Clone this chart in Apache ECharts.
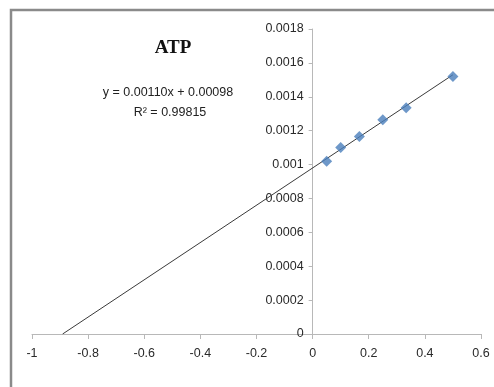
<!DOCTYPE html>
<html>
<head>
<meta charset="utf-8">
<script src="https://cdn.jsdelivr.net/npm/echarts@6/dist/echarts.min.js"></script>
<style>
  html, body { margin: 0; padding: 0; background: #ffffff; }
  #chart { width: 494px; height: 387px; }
</style>
</head>
<body>
<div id="chart"></div>
<script>
// Lineweaver-Burk style plot: 1/[S] against 1/v for ATP
const invSubstrate = [0.05, 0.1, 0.1667, 0.25, 0.3333, 0.5];
const invVelocity = [0.00102, 0.00110, 0.001165, 0.001265, 0.001335, 0.00152];

// Linear trendline as given by the fitted equation
const slope = 0.00110;
const intercept = 0.00098;
const rSquared = 0.99815;
const trendRange = [-intercept / slope, 0.5];

const xTicks = { min: -1, max: 0.6, interval: 0.2 };
const yTicks = { min: 0, max: 0.0018, interval: 0.0002 };

const points = invSubstrate.map((x, i) => [x, invVelocity[i]]);
const trend = trendRange.map(x => [x, slope * x + intercept]);

const labelFont = '"Liberation Sans Narrow", "Liberation Sans", Arial, sans-serif';
const fmt = v => String(parseFloat(v.toFixed(4)));

// plot area and the horizontal distance from its left edge to x = 0,
// so the vertical axis (with its labels) sits on the origin
const W = 494, H = 387;
const plot = { left: 32, right: 13, top: 29, bottom: 53 };
const plotWidth = W - plot.left - plot.right;
const zeroShift = (0 - xTicks.min) / (xTicks.max - xTicks.min) * plotWidth;

const chart = echarts.init(document.getElementById('chart'), null, { renderer: 'canvas' });
chart.setOption({
  backgroundColor: '#ffffff',
  animation: false,
  grid: Object.assign({ containLabel: false, outerBoundsMode: 'none' }, plot),
  xAxis: {
    type: 'value',
    min: xTicks.min, max: xTicks.max, interval: xTicks.interval,
    axisLine: { onZero: true, lineStyle: { color: '#b8b8b8', width: 1 } },
    axisTick: { show: true, length: 5, lineStyle: { color: '#b8b8b8' } },
    splitLine: { show: false },
    axisLabel: { color: '#2a2a2a', fontFamily: labelFont, fontSize: 12.5, margin: 13, formatter: fmt }
  },
  yAxis: {
    type: 'value',
    position: 'left',
    offset: -zeroShift,
    min: yTicks.min, max: yTicks.max, interval: yTicks.interval,
    axisLine: { show: true, onZero: false, lineStyle: { color: '#b8b8b8', width: 1 } },
    axisTick: { show: true, length: 4, lineStyle: { color: '#b8b8b8' } },
    splitLine: { show: false },
    axisLabel: { color: '#2a2a2a', fontFamily: labelFont, fontSize: 12.5, margin: 9, formatter: fmt }
  },
  series: [
    {
      type: 'line',
      data: trend,
      symbol: 'none',
      lineStyle: { color: '#3a3a3a', width: 1 },
      z: 2
    },
    {
      type: 'scatter',
      data: points,
      symbol: 'diamond',
      symbolSize: 11,
      itemStyle: { color: '#4a7ebb' },
      z: 3
    }
  ],
  graphic: [
    {
      type: 'rect',
      shape: { x: 11, y: 10, width: 500, height: 400 },
      style: { fill: 'none', stroke: '#8a8a8a', lineWidth: 2.5 },
      silent: true, z: -1
    },
    {
      type: 'text', x: 173, y: 48,
      style: {
        text: 'ATP', fill: '#111', align: 'center', verticalAlign: 'middle',
        font: 'bold 19px "Liberation Serif", "Times New Roman", serif'
      }
    },
    {
      type: 'text', x: 168, y: 93,
      style: {
        text: 'y = ' + slope.toFixed(5) + 'x + ' + intercept.toFixed(5),
        fill: '#222', align: 'center', verticalAlign: 'middle',
        font: '12.5px ' + labelFont
      }
    },
    {
      type: 'text', x: 170, y: 113,
      style: {
        text: 'R\u00B2 = ' + rSquared.toFixed(5),
        fill: '#222', align: 'center', verticalAlign: 'middle',
        font: '12.5px ' + labelFont
      }
    }
  ]
});
</script>
</body>
</html>
